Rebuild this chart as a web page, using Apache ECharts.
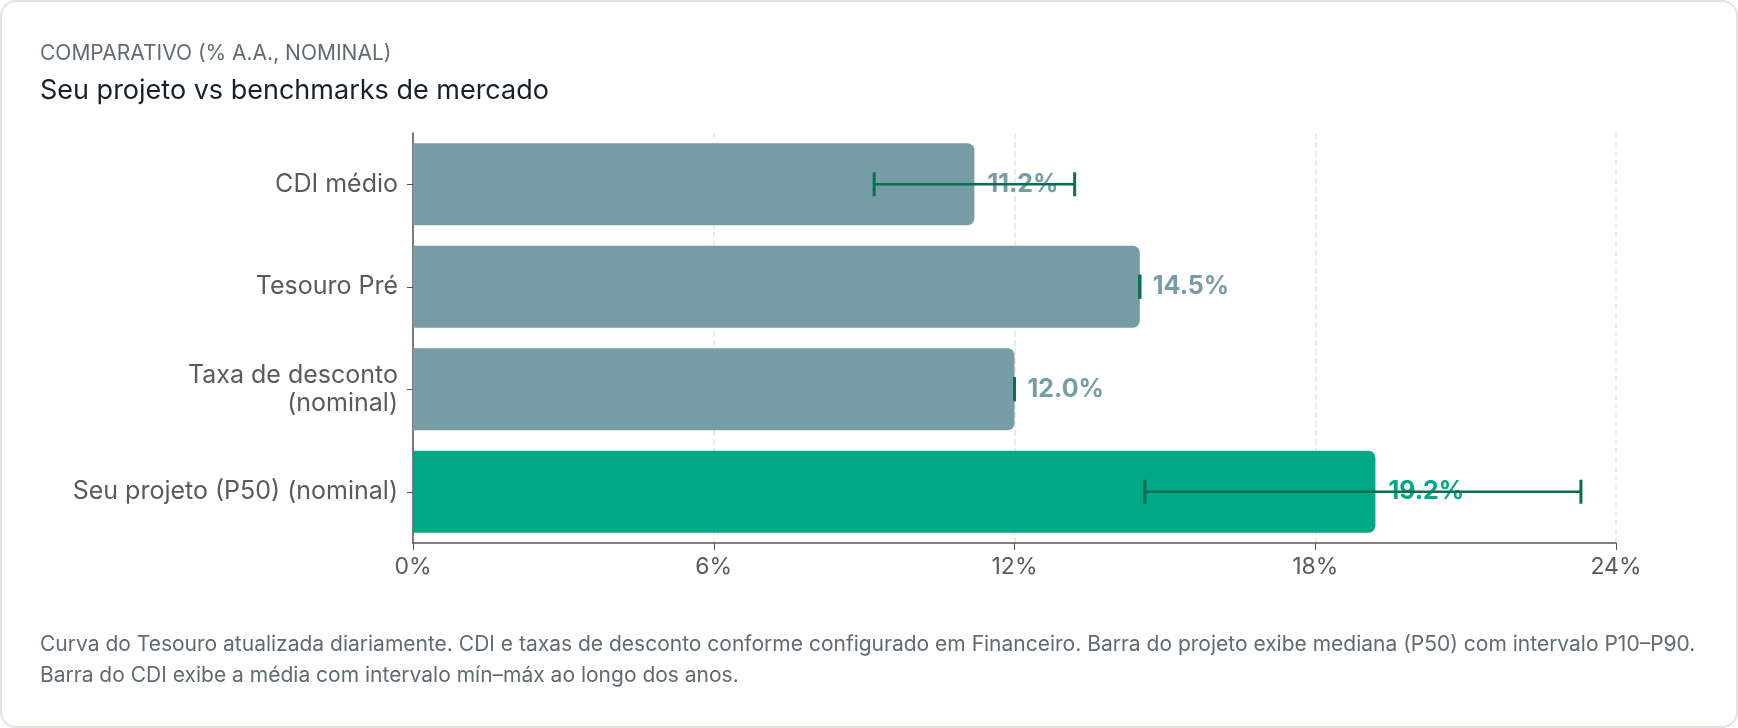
<!DOCTYPE html>
<html>
<head>
<meta charset="utf-8">
<script src="https://cdn.jsdelivr.net/npm/echarts@6/dist/echarts.min.js"></script>
<style>
  html, body { margin: 0; padding: 0; background: #ffffff; }
  #card {
    position: absolute; left: 0; top: 0; width: 1738px; height: 728px;
    box-sizing: border-box; border: 2px solid #dfe3e7; border-radius: 16px; background: #fff;
  }
  #chart { position: absolute; left: 0; top: 0; width: 1738px; height: 728px; }
</style>
</head>
<body>
<div id="card"></div>
<div id="chart"></div>
<script>
// dados do gráfico
var categorias = ['CDI médio', 'Tesouro Pré', 'Taxa de desconto\n(nominal)', 'Seu projeto (P50) (nominal)'];
var valores = [11.2, 14.5, 12.0, 19.2];
var intervaloMin = [9.2, 14.5, 12.0, 14.6];
var intervaloMax = [13.2, 14.5, 12.0, 23.3];
var destaque = [false, false, false, true];
var ticksX = [0, 6, 12, 18, 24];

var corBench = '#769ca6';
var corProjeto = '#00a886';
var corErro = '#0b6e4f';
var fonte = 'Inter, "Noto Sans", sans-serif';

var chartDom = document.getElementById('chart');
var myChart = echarts.init(chartDom);

var barras = valores.map(function (v, i) {
  var cor = destaque[i] ? corProjeto : corBench;
  return {
    value: v,
    itemStyle: { color: cor },
    label: { color: cor }
  };
});

var erros = valores.map(function (v, i) {
  return [i, intervaloMin[i], intervaloMax[i]];
});

var option = {
  animation: false,
  textStyle: { fontFamily: fonte },
  title: [
    {
      text: 'COMPARATIVO (% A.A., NOMINAL)',
      left: 35, top: 38,
      textStyle: { fontFamily: fonte, fontSize: 21, fontWeight: 'normal', color: '#5f6b73', letterSpacing: 0.4 }
    },
    {
      text: 'Seu projeto vs benchmarks de mercado',
      left: 35, top: 72,
      textStyle: { fontFamily: fonte, fontSize: 27, fontWeight: 'normal', color: '#17212b' }
    },
    {
      text: 'Curva do Tesouro atualizada diariamente. CDI e taxas de desconto conforme configurado em Financeiro. Barra do projeto exibe mediana (P50) com intervalo P10–P90.\nBarra do CDI exibe a média com intervalo mín–máx ao longo dos anos.',
      left: 35, top: 624,
      textStyle: { fontFamily: fonte, fontSize: 21, fontWeight: 'normal', color: '#5f6b73', lineHeight: 31 }
    }
  ],
  grid: { left: 413, right: 122, top: 133, bottom: 185, containLabel: false },
  xAxis: {
    type: 'value',
    min: 0, max: 24, interval: 6,
    axisLine: { show: true, lineStyle: { color: '#555', width: 1.5 } },
    axisTick: { show: true, length: 7, lineStyle: { color: '#555' } },
    splitLine: { show: true, lineStyle: { color: '#e3e6e9', type: 'dashed', width: 1.5 } },
    axisLabel: {
      margin: 13, fontSize: 23, color: '#5a5a5a', fontFamily: fonte,
      formatter: function (v) { return ticksX.indexOf(v) >= 0 ? v + '%' : ''; }
    }
  },
  yAxis: {
    type: 'category',
    inverse: true,
    data: categorias,
    axisLine: { show: true, lineStyle: { color: '#555', width: 1.5 } },
    axisTick: { show: true, length: 6, alignWithLabel: true, lineStyle: { color: '#555' } },
    axisLabel: { margin: 15, fontSize: 25, color: '#5a5a5a', fontFamily: fonte, lineHeight: 28, align: 'right' }
  },
  series: [
    {
      type: 'bar',
      data: barras,
      barCategoryGap: '20%',
      itemStyle: { borderRadius: [0, 7, 7, 0] },
      label: {
        show: true, position: 'right', distance: 13,
        fontSize: 25, fontWeight: 'bold', fontFamily: fonte,
        formatter: function (p) { return p.value.toFixed(1) + '%'; }
      },
      z: 2
    },
    {
      type: 'custom',
      data: erros,
      encode: { x: [1, 2], y: 0 },
      z: 10,
      renderItem: function (params, api) {
        var cat = api.value(0);
        var lo = api.coord([api.value(1), cat]);
        var hi = api.coord([api.value(2), cat]);
        var h = 24;
        var st = { stroke: corErro, lineWidth: 2.5 };
        var cap = { stroke: corErro, lineWidth: 3 };
        return {
          type: 'group',
          children: [
            { type: 'line', shape: { x1: lo[0], y1: lo[1], x2: hi[0], y2: hi[1] }, style: st },
            { type: 'line', shape: { x1: lo[0], y1: lo[1] - h / 2, x2: lo[0], y2: lo[1] + h / 2 }, style: cap },
            { type: 'line', shape: { x1: hi[0], y1: hi[1] - h / 2, x2: hi[0], y2: hi[1] + h / 2 }, style: cap }
          ]
        };
      }
    }
  ]
};

option && myChart.setOption(option);
</script>
</body>
</html>
